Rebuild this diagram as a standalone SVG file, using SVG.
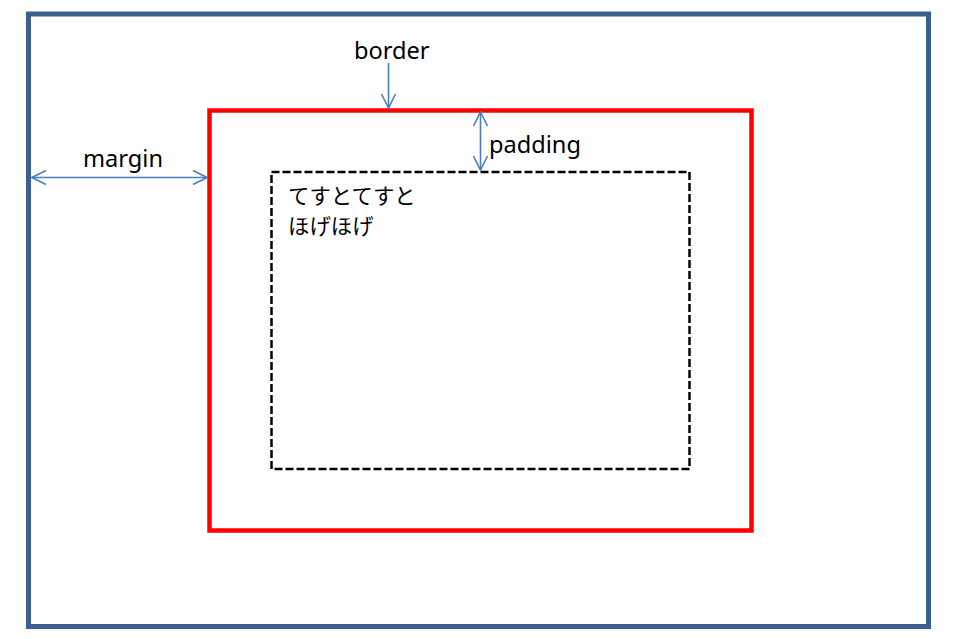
<svg xmlns="http://www.w3.org/2000/svg" width="955" height="639" viewBox="0 0 955 639">
<style>
.lbl{font-family:"Noto Sans","DejaVu Sans",sans-serif;font-size:23.6px;fill:#000}
.jp{font-family:"Noto Sans CJK JP",sans-serif;font-size:21.4px;fill:#000}
.arr{stroke:#4A7EBB;stroke-width:1.6;fill:none}
</style>
<defs>
<marker id="ah" viewBox="0 0 16 16" refX="15" refY="8" markerWidth="16" markerHeight="16" markerUnits="userSpaceOnUse" orient="auto-start-reverse">
<path d="M1,1 L15,8 L1,15" fill="none" stroke="#4A7EBB" stroke-width="1.6"/>
</marker>
</defs>
<rect width="955" height="639" fill="#fff"/>
<g id="margin-box"><rect x="28.5" y="14" width="900" height="612.5" fill="none" stroke="#3B5F8E" stroke-width="5"/></g>
<g id="border-box"><rect x="209.5" y="110.5" width="542" height="420" fill="none" stroke="#FF0000" stroke-width="4.5"/></g>
<g id="content-box">
<rect x="271.5" y="172" width="418" height="297" fill="none" stroke="#000" stroke-width="2.5" stroke-dasharray="8,3"/>
<text class="jp" x="288" y="204">てすとてすと</text>
<text class="jp" x="288" y="234">ほげほげ</text>
</g>
<g id="labels">
<text class="lbl" x="83" y="167">margin</text>
<text class="lbl" x="354" y="59">border</text>
<text class="lbl" x="489" y="153">padding</text>
</g>
<g id="connectors">
<line class="arr" x1="32" y1="177.5" x2="207" y2="177.5" marker-start="url(#ah)" marker-end="url(#ah)"/>
<line class="arr" x1="388.5" y1="63" x2="388.5" y2="108" marker-end="url(#ah)"/>
<line class="arr" x1="480.5" y1="112" x2="480.5" y2="170" marker-start="url(#ah)" marker-end="url(#ah)"/>
</g>
</svg>
